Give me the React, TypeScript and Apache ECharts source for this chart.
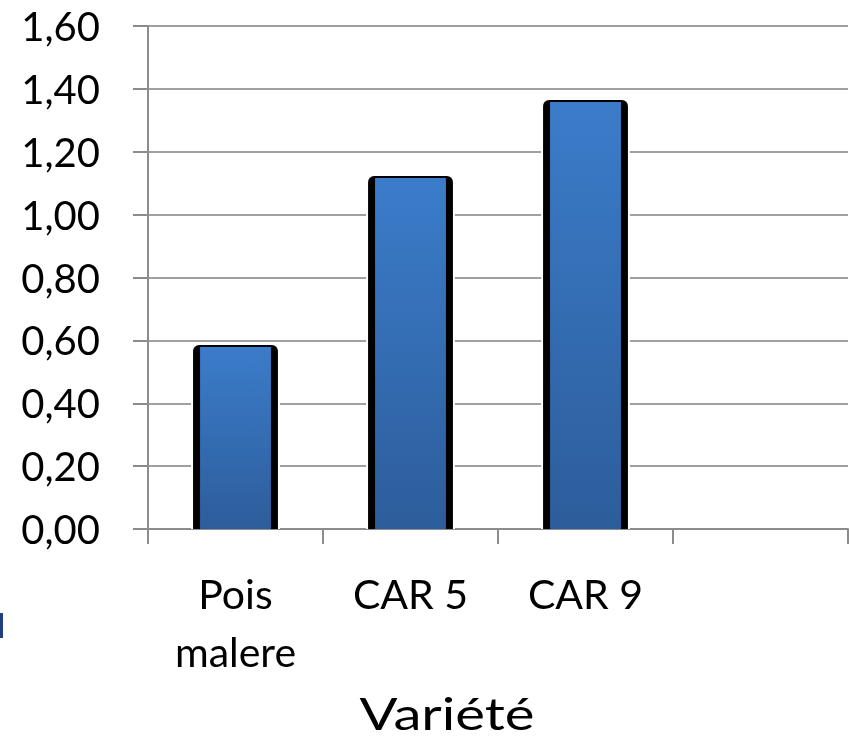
import React, { useEffect, useRef } from "react";
import * as echarts from "echarts";

const categories = ["Pois\nmalere", "CAR 5", "CAR 9", ""];
const values = [0.585, 1.123, 1.365, null];
const yTicks = { min: 0, max: 1.6, interval: 0.2 };
const axisTitle = "Variété";

export default function App() {
  const ref = useRef<HTMLDivElement>(null);
  useEffect(() => {
    if (!ref.current) return;
    const chart = echarts.init(ref.current, undefined, { renderer: "svg" });
    const data = categories.map((c, i) => [i, values[i]]).filter((d) => d[1] != null);
    chart.setOption({
      animation: false,
      grid: { left: 148, right: 1, top: 26, bottom: 213, containLabel: false, outerBoundsMode: "none" },
      xAxis: {
        type: "category",
        data: categories,
        boundaryGap: true,
        axisLine: { show: true, lineStyle: { color: "#8c8c8c", width: 2 } },
        axisTick: { show: true, length: 15, alignWithLabel: false, lineStyle: { color: "#8c8c8c", width: 2 } },
        axisLabel: {
          fontFamily: "Lato",
          fontSize: 41,
          color: "#000",
          margin: 35,
          lineHeight: 58,
          interval: 0,
        },
        splitLine: { show: false },
      },
      yAxis: {
        type: "value",
        min: yTicks.min,
        max: yTicks.max,
        interval: yTicks.interval,
        axisLine: { show: true, lineStyle: { color: "#8c8c8c", width: 2 } },
        axisTick: { show: true, length: 15, lineStyle: { color: "#8c8c8c", width: 2 } },
        axisLabel: {
          fontFamily: "Lato",
          fontSize: 40,
          color: "#000",
          margin: 48,
          formatter: (v: number) => v.toFixed(2).replace(".", ","),
        },
        splitLine: { show: true, lineStyle: { color: "#a0a0a0", width: 2 } },
      },
      graphic: [
        { type: "rect", left: 0, top: 613, shape: { width: 3, height: 25 }, style: { fill: "#203f7f" } },
        {
          type: "text",
          x: 447,
          y: 713,
          scaleX: 1.25,
          style: {
            text: axisTitle,
            fontFamily: "Lato",
            fontSize: 45,
            fill: "#000",
            align: "center",
            verticalAlign: "middle",
          },
        },
      ],
      series: [
        {
          type: "custom",
          data,
          encode: { x: 0, y: 1 },
          z: 5,
          renderItem: (params: any, api: any) => {
            const x = api.value(0);
            const v = api.value(1);
            const top = api.coord([x, v]);
            const base = api.coord([x, 0]);
            const band = api.size([1, 0])[0];
            const w = band * 0.485;
            const left = top[0] - w / 2;
            const h = base[1] - top[1];
            const side = 7;
            return {
              type: "group",
              children: [
                { type: "rect", shape: { x: left - 2, y: top[1] - 1, width: w + 4, height: h + 1 }, style: { fill: "#fff" } },
                { type: "rect", shape: { x: left, y: top[1], width: w, height: h, r: [6, 6, 0, 0] }, style: { fill: "#000" } },
                {
                  type: "rect",
                  shape: { x: left + side, y: top[1] + 2, width: w - 2 * side, height: h - 2 },
                  style: {
                    fill: new echarts.graphic.LinearGradient(0, 0, 0, 1, [
                      { offset: 0, color: "#3b7cca" },
                      { offset: 1, color: "#2d5d9b" },
                    ]),
                  },
                },
              ],
            };
          },
        },
      ],
    });
    return () => chart.dispose();
  }, []);
  return <div ref={ref} style={{ position: "fixed", left: 0, top: 0, width: 849, height: 742 }} />;
}
